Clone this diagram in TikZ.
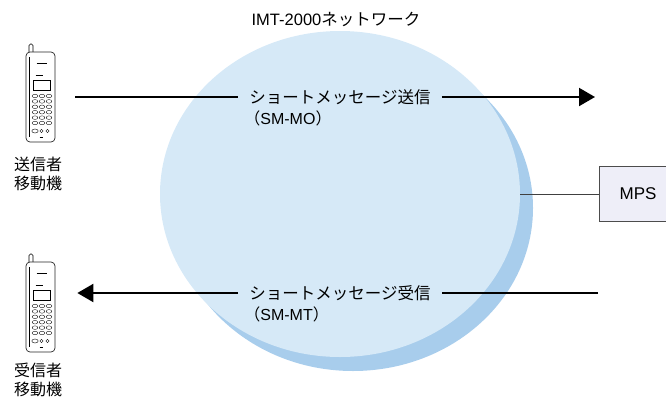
\documentclass[tikz,border=0pt]{standalone}
\usepackage{fontspec}
\setmainfont{Liberation Sans}
\newfontfamily\jp{Noto Sans CJK JP}
\usetikzlibrary{arrows.meta,positioning,shapes.geometric}

\definecolor{netblue}{RGB}{214,233,247}
\definecolor{netshade}{RGB}{168,205,236}
\definecolor{mpsfill}{RGB}{238,238,248}

\tikzset{
  handset/.pic={
    \draw[line width=0.6pt,fill=white,rounded corners=1.5pt] (-11.5,-45) -- (-11.5,-53) -- (-7.5,-53) -- (-7.5,-45);
    \node[draw=black!85,line width=0.7pt,fill=white,rounded corners=4pt,
          minimum width=29pt,minimum height=90pt,inner sep=0pt] (-body) at (0,0) {};
    \draw[line width=0.4pt] (-11.5,-40) -- (-11.5,40);
    \draw[line width=0.8pt] (-4,-34) -- (6,-34);
    \draw[line width=0.4pt] (-5,-22) -- (2,-22);
    \draw[line width=0.5pt] (-7,-17) rectangle (10,-7);
    \foreach \row in {0,...,5}
      \foreach \col in {0,1,2}
        \draw[line width=0.35pt] (-5.5+\col*7,-1+\row*5.4) ellipse [x radius=2.8pt,y radius=1.8pt];
    \draw[line width=0.4pt] (-5.5,34) ellipse [x radius=3.2pt,y radius=2pt];
    \draw[line width=0.4pt] (1,34) circle [radius=1.7pt] (7,34) circle [radius=1.7pt];
    \draw[line width=0.4pt] (-1,40) -- (2,40);
  }
}

\begin{document}
\begin{tikzpicture}[x=1pt,y=-1pt,
  every node/.style={font=\fontsize{16}{20}\selectfont},
  msg/.style={font=\jp\fontsize{16.5}{20}\selectfont,inner xsep=11pt,inner ysep=1pt},
  sub/.style={inner sep=0pt},
  who/.style={font=\jp\fontsize{16}{19}\selectfont,align=center,inner sep=0pt},
  link/.style={line width=2pt},
  tip/.style={-{Triangle[length=16pt,width=18pt]}}
]
  \useasboundingbox (0,0) rectangle (666,399);
  \clip (0,0) rectangle (666,399);

  % network cloud with its shade
  \fill[netshade] (353,208) ellipse [x radius=180pt,y radius=163pt];
  \node[ellipse,fill=netblue,minimum width=360pt,minimum height=326pt,inner sep=0pt] (net) at (340,194) {};
  \node[font=\fontsize{16.5}{20}\selectfont] (nettitle) at (336,19) {IMT-2000\jp ネットワーク};

  \node[draw=black!70,line width=0.7pt,fill=mpsfill,minimum width=78pt,minimum height=55pt,
        font=\fontsize{17}{20}\selectfont] (mps) at (638,194) {MPS};
  \draw[black!75,line width=0.6pt] (net.east) -- (mps.west);

  \pic (sender) at (40.5,97) {handset};
  \pic (receiver) at (40.5,307) {handset};
  \node[who] (sendername) at (38,174) {送信者\\移動機};
  \node[who] (receivername) at (38,380) {受信者\\移動機};

  % sending
  \node[msg] (send) at (340,97) {ショートメッセージ送信};
  \node[sub,below right=5pt and 0pt of send.south west,xshift=6pt] (sendcode) {\jp （\rmfamily SM-MO\jp ）};
  \coordinate (sendtip) at (595,97);
  \draw[link,shorten <=20pt] (sender-body.east |- send.west) -- (send.west);
  \draw[link,tip] (send.east) -- (sendtip);

  % receiving
  \node[msg] (recv) at (340,293) {ショートメッセージ受信};
  \node[sub,below right=5pt and 0pt of recv.south west,xshift=6pt] (recvcode) {\jp （\rmfamily SM-MT\jp ）};
  \coordinate (recvstart) at (598,293);
  \draw[link] (recvstart) -- (recv.east);
  \draw[link,tip,shorten >=22pt] (recv.west) -- (recv.west -| receiver-body.east);
\end{tikzpicture}
\end{document}
